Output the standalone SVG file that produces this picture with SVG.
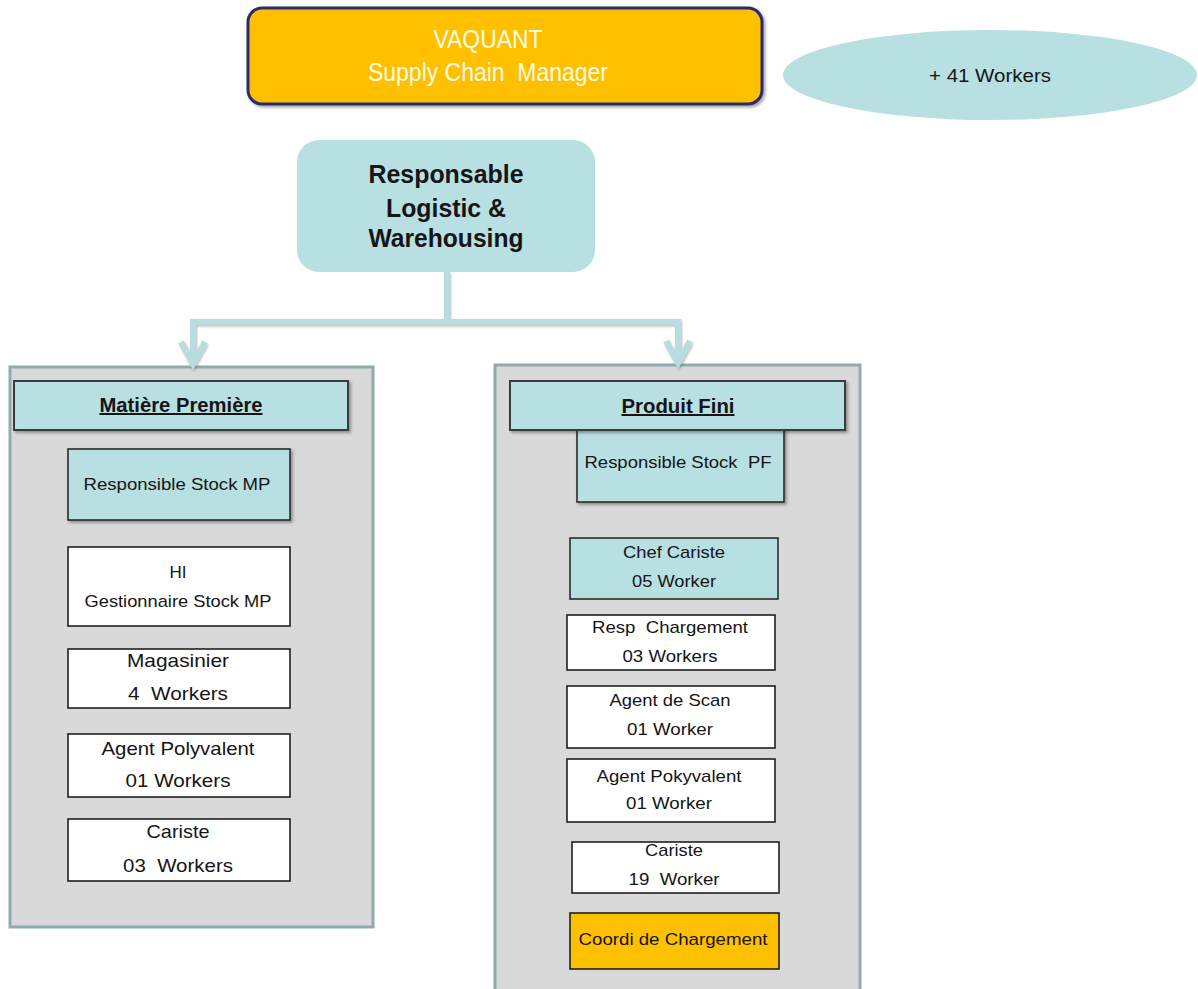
<svg xmlns="http://www.w3.org/2000/svg" width="1198" height="989" viewBox="0 0 1198 989">
  <defs>
    <filter id="shadow" x="-10%" y="-10%" width="125%" height="140%">
      <feDropShadow dx="2" dy="2" stdDeviation="1.5" flood-color="#000" flood-opacity="0.35"/>
    </filter>
    <filter id="lineShadow" x="-10%" y="-10%" width="130%" height="130%">
      <feDropShadow dx="1" dy="1.5" stdDeviation="1" flood-color="#555" flood-opacity="0.4"/>
    </filter>
    <clipPath id="clipCariste19">
      <rect x="572" y="843" width="207" height="50"/>
    </clipPath>
  </defs>
  <style>
    text { font-family: "Liberation Sans", Arial, sans-serif; fill: #151515; text-anchor: middle; }
    .panel { fill: #d9d9d9; stroke: #8eabad; stroke-width: 3; }
    .head { fill: #b8dfe2; stroke: #3a3a3a; stroke-width: 2; }
    .teal { fill: #b8dfe2; stroke: #2a2a2a; stroke-width: 1.6; }
    .white { fill: #ffffff; stroke: #1e1e1e; stroke-width: 1.6; }
    .gold { fill: #ffc000; stroke: #1e1e1e; stroke-width: 1.6; }
    .conn { fill: none; stroke: #b8dde0; stroke-width: 6; }
    .bold { font-weight: bold; }
    .u { text-decoration: underline; }
    .top { fill: #fffbe3; }
  </style>

  <!-- top manager -->
  <g id="manager">
    <rect x="248" y="8" width="514" height="96" rx="14" fill="#ffc000" stroke="#2c2a72" stroke-width="3" filter="url(#shadow)"/>
    <text class="top" x="488" y="48" font-size="26" textLength="109" lengthAdjust="spacingAndGlyphs">VAQUANT</text>
    <text class="top" x="488" y="81" font-size="26" textLength="240" lengthAdjust="spacingAndGlyphs" xml:space="preserve">Supply Chain  Manager</text>
  </g>

  <g id="workers-total">
    <ellipse cx="990" cy="75" rx="207" ry="45" fill="#b8dfe2"/>
    <text x="990" y="82" font-size="18" textLength="122" lengthAdjust="spacingAndGlyphs">+ 41 Workers</text>
  </g>

  <g id="responsable">
    <rect x="297" y="140" width="298" height="132" rx="22" fill="#b8dfe2"/>
    <text class="bold" x="446" y="183" font-size="25" textLength="155" lengthAdjust="spacingAndGlyphs">Responsable</text>
    <text class="bold" x="446" y="217" font-size="25" textLength="120" lengthAdjust="spacingAndGlyphs">Logistic &amp;</text>
    <text class="bold" x="446" y="247" font-size="25" textLength="155" lengthAdjust="spacingAndGlyphs">Warehousing</text>
  </g>

  <!-- department panels -->
  <g id="panel-mp">
    <rect class="panel" x="10" y="367" width="363" height="560"/>
  </g>
  <g id="panel-pf">
    <rect class="panel" x="495" y="365" width="365" height="630"/>
  </g>

  <!-- connectors -->
  <g id="connectors" filter="url(#lineShadow)">
    <path class="conn" d="M447,272 V322 H193 V364"/>
    <path class="conn" d="M447,322 H678 V362"/>
    <path class="conn" d="M181,342 L193,364 L205,342" stroke-linejoin="miter"/>
    <path class="conn" d="M666,341 L678,363 L690,341" stroke-linejoin="miter"/>
  </g>

  <!-- Matière Première column -->
  <g id="mp-header">
    <rect class="head" x="14" y="381" width="334" height="49" filter="url(#shadow)"/>
    <text class="bold u" x="181" y="412" font-size="20" textLength="163" lengthAdjust="spacingAndGlyphs">Matière Première</text>
  </g>
  <g id="mp-resp">
    <rect class="teal" x="68" y="449" width="222" height="71" filter="url(#shadow)"/>
    <text x="177" y="490" font-size="17" textLength="187" lengthAdjust="spacingAndGlyphs">Responsible Stock MP</text>
  </g>
  <g id="mp-gestionnaire">
    <rect class="white" x="68" y="547" width="222" height="79"/>
    <text x="178" y="578" font-size="17">HI</text>
    <text x="178" y="607" font-size="17" textLength="187" lengthAdjust="spacingAndGlyphs">Gestionnaire Stock MP</text>
  </g>
  <g id="mp-magasinier">
    <rect class="white" x="68" y="649" width="222" height="59"/>
    <text x="178" y="667" font-size="19" textLength="102" lengthAdjust="spacingAndGlyphs">Magasinier</text>
    <text x="178" y="700" font-size="19" textLength="100" lengthAdjust="spacingAndGlyphs" xml:space="preserve">4  Workers</text>
  </g>
  <g id="mp-polyvalent">
    <rect class="white" x="68" y="734" width="222" height="63"/>
    <text x="178" y="755" font-size="19" textLength="153" lengthAdjust="spacingAndGlyphs">Agent Polyvalent</text>
    <text x="178" y="787" font-size="19" textLength="105" lengthAdjust="spacingAndGlyphs">01 Workers</text>
  </g>
  <g id="mp-cariste">
    <rect class="white" x="68" y="819" width="222" height="62"/>
    <text x="178" y="838" font-size="19" textLength="63" lengthAdjust="spacingAndGlyphs">Cariste</text>
    <text x="178" y="872" font-size="19" textLength="110" lengthAdjust="spacingAndGlyphs" xml:space="preserve">03  Workers</text>
  </g>

  <!-- Produit Fini column -->
  <g id="pf-resp">
    <rect class="teal" x="577" y="420" width="207" height="82" filter="url(#shadow)"/>
    <text x="678" y="468" font-size="17" textLength="187" lengthAdjust="spacingAndGlyphs" xml:space="preserve">Responsible Stock  PF</text>
  </g>
  <g id="pf-header">
    <rect class="head" x="510" y="381" width="335" height="49" filter="url(#shadow)"/>
    <text class="bold u" x="678" y="413" font-size="20" textLength="113" lengthAdjust="spacingAndGlyphs">Produit Fini</text>
  </g>
  <g id="pf-chef-cariste">
    <rect class="teal" x="570" y="538" width="208" height="61"/>
    <text x="674" y="558" font-size="17" textLength="102" lengthAdjust="spacingAndGlyphs">Chef Cariste</text>
    <text x="674" y="587" font-size="17" textLength="84" lengthAdjust="spacingAndGlyphs">05 Worker</text>
  </g>
  <g id="pf-chargement">
    <rect class="white" x="567" y="615" width="208" height="55"/>
    <text x="670" y="633" font-size="17" textLength="156" lengthAdjust="spacingAndGlyphs" xml:space="preserve">Resp  Chargement</text>
    <text x="670" y="662" font-size="17" textLength="95" lengthAdjust="spacingAndGlyphs">03 Workers</text>
  </g>
  <g id="pf-scan">
    <rect class="white" x="567" y="686" width="208" height="62"/>
    <text x="670" y="706" font-size="17" textLength="121" lengthAdjust="spacingAndGlyphs">Agent de Scan</text>
    <text x="670" y="735" font-size="17" textLength="86" lengthAdjust="spacingAndGlyphs">01 Worker</text>
  </g>
  <g id="pf-pokyvalent">
    <rect class="white" x="567" y="759" width="208" height="63"/>
    <text x="669" y="782" font-size="17" textLength="145" lengthAdjust="spacingAndGlyphs">Agent Pokyvalent</text>
    <text x="669" y="809" font-size="17" textLength="86" lengthAdjust="spacingAndGlyphs">01 Worker</text>
  </g>
  <g id="pf-cariste">
    <rect class="white" x="572" y="842" width="207" height="51"/>
    <text x="674" y="856" font-size="17" textLength="58" lengthAdjust="spacingAndGlyphs" clip-path="url(#clipCariste19)">Cariste</text>
    <text x="674" y="885" font-size="17" textLength="91" lengthAdjust="spacingAndGlyphs" xml:space="preserve">19  Worker</text>
  </g>
  <g id="pf-coordi">
    <rect class="gold" x="570" y="913" width="209" height="56"/>
    <text x="673" y="945" font-size="17" textLength="189" lengthAdjust="spacingAndGlyphs">Coordi de Chargement</text>
  </g>
</svg>
